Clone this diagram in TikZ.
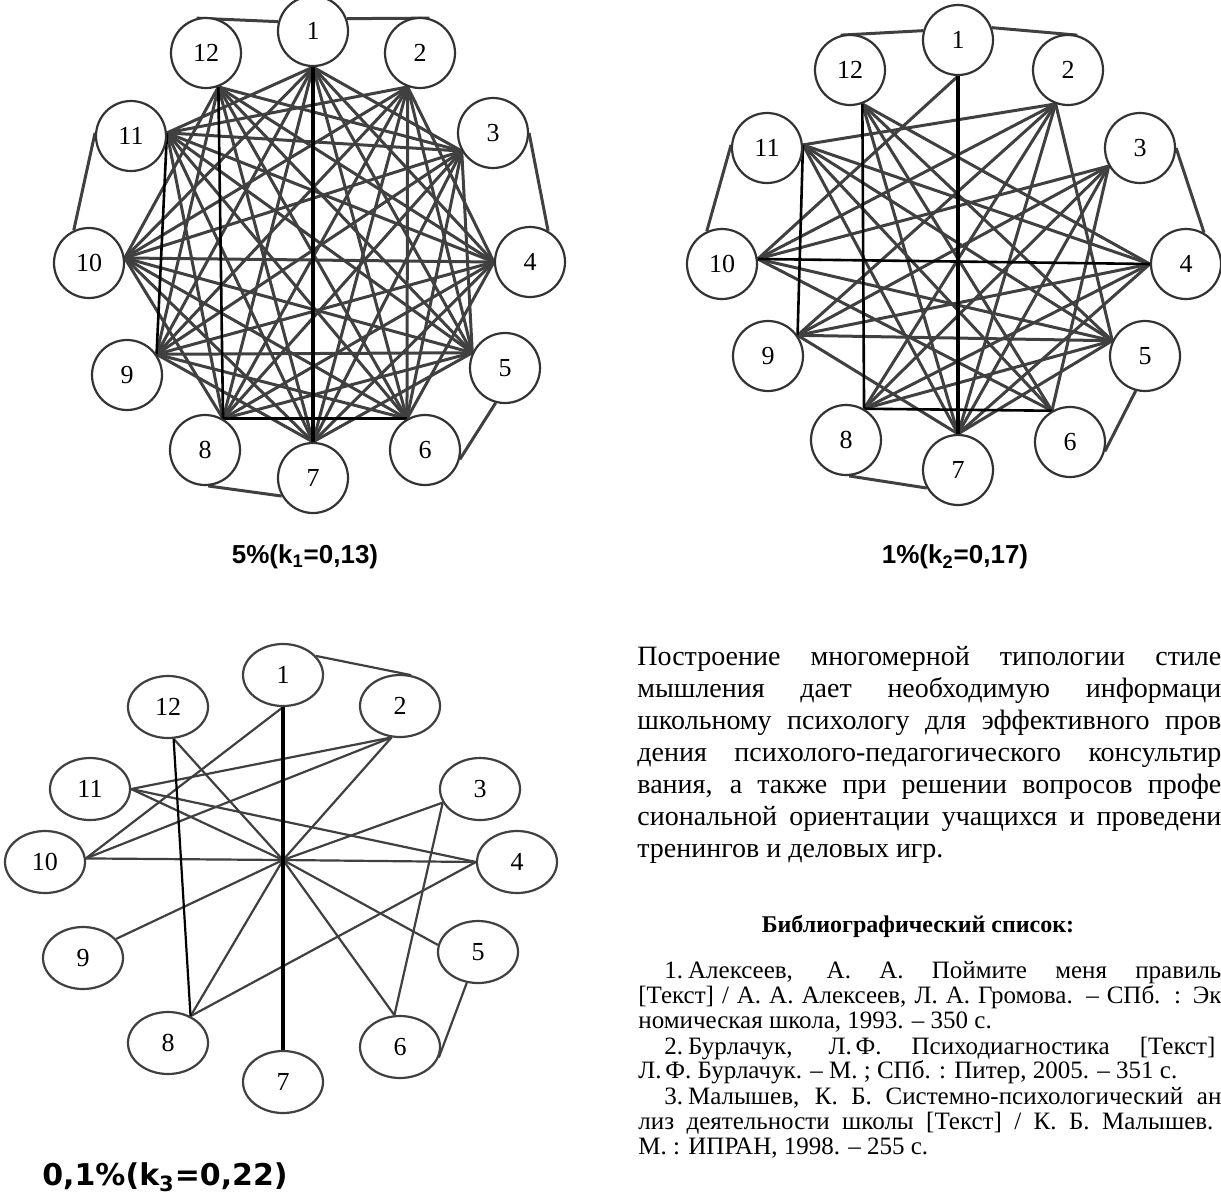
\documentclass[tikz,border=0pt]{standalone}
\usepackage{fontspec}
\setmainfont{Liberation Serif}
\newfontfamily\capa{Liberation Sans}
\newfontfamily\capb{DejaVu Sans}
\usetikzlibrary{shapes.geometric,backgrounds}
\begin{document}
\begin{tikzpicture}[x=0.5pt,y=-0.5pt,
 nd/.style={circle,draw=black!80,line width=1.1pt,fill=white,minimum size=35pt,inner sep=0pt,font=\fontsize{13}{13}\selectfont},
 ne/.style={ellipse,draw=black!75,line width=1.1pt,fill=white,minimum width=40pt,minimum height=31pt,inner sep=0pt,font=\fontsize{13}{13}\selectfont},
 ed/.style={draw=black!75,line width=1.5pt},
 ek/.style={draw=black,line width=1.3pt},
 ebk/.style={draw=black,line width=2.2pt},
 et/.style={draw=black!75,line width=1.1pt},
 txt/.style={anchor=base west,inner sep=0pt,font=\fontsize{14}{14}\selectfont},
 bib/.style={anchor=base west,inner sep=0pt,font=\fontsize{12.5}{12.5}\selectfont}]
\useasboundingbox (0,0) rectangle (1221,1200);
% ---------- graph 1 ----------
\node[nd] (a1) at (313,31) {1};
\node[nd] (a2) at (420,53) {2};
\node[nd] (a3) at (493,133) {3};
\node[nd] (a4) at (530,262) {4};
\node[nd] (a5) at (505,368) {5};
\node[nd] (a6) at (425,450) {6};
\node[nd] (a7) at (313,478) {7};
\node[nd] (a8) at (205,450) {8};
\node[nd] (a9) at (127,375) {9};
\node[nd] (a10) at (89,263) {10};
\node[nd] (a11) at (131,136) {11};
\node[nd] (a12) at (206,53) {12};
% ---------- graph 2 ----------
\node[nd] (b1) at (958,40) {1};
\node[nd] (b2) at (1068,70) {2};
\node[nd] (b3) at (1140,148) {3};
\node[nd] (b4) at (1186,264) {4};
\node[nd] (b5) at (1145,356) {5};
\node[nd] (b6) at (1070,442) {6};
\node[nd] (b7) at (958,470) {7};
\node[nd] (b8) at (846,440) {8};
\node[nd] (b9) at (768,356) {9};
\node[nd] (b10) at (722,264) {10};
\node[nd] (b11) at (767,148) {11};
\node[nd] (b12) at (850,70) {12};
% ---------- graph 3 ----------
\node[ne] (c1) at (283,675) {1};
\node[ne] (c2) at (400,706) {2};
\node[ne] (c3) at (480,789) {3};
\node[ne] (c4) at (517,862) {4};
\node[ne] (c5) at (478,952) {5};
\node[ne] (c6) at (400,1047) {6};
\node[ne] (c7) at (283,1082) {7};
\node[ne] (c8) at (168,1043) {8};
\node[ne] (c9) at (83,958) {9};
\node[ne] (c10) at (45,862) {10};
\node[ne] (c11) at (90,789) {11};
\node[ne] (c12) at (168,707) {12};
\coordinate (hub) at (283,860);
% anchors
\foreach \n/\a in {1/270,2/-110,3/-150,4/180,5/155,6/120,7/90,8/60,9/35,10/8,11/5,12/-70}{
  \coordinate (pa\n) at (a\n.\a);
  \coordinate (pb\n) at (b\n.\a);}
\foreach \n/\a in {1/270,2/-105,3/200,4/180,5/170,6/100,7/90,8/50,9/30,10/5,11/0,12/-80}{
  \coordinate (pc\n) at (c\n.\a);}
\begin{scope}[on background layer]
% graph 1 edges
\foreach \i/\j in {1/3,1/4,1/5,1/6,1/8,1/9,1/10,1/11,
  2/4,2/5,2/6,2/7,2/8,2/9,2/10,2/11,
  3/5,3/6,3/7,3/8,3/9,3/10,3/11,3/12,
  4/6,4/7,4/8,4/9,4/10,4/11,4/12,
  5/7,5/8,5/9,5/10,5/11,5/12,
  6/9,6/10,6/11,6/12,
  7/9,7/10,7/11,7/12,
  8/10,8/11,
  9/12,10/12}
  \draw[ed] (pa\i) -- (pa\j);
\draw[ebk] (pa1) -- (pa7);
\draw[ek] (pa12) -- (pa8);
\draw[ek] (pa11) -- (pa9);
\draw[ek] (pa8) -- (pa6);
\draw[ed] (a12.105) -- (a1.165);
\draw[ed] (a1.20) -- (a2.75);
\draw[ed] (a11.175) -- (a10.115);
\draw[ed] (a3.0) -- (a4.60);
\draw[ed] (a5.-105) -- (a6.-15);
\draw[ed] (a8.-85) -- (a7.-150);
% graph 2 edges
\foreach \i/\j in {1/10,12/4,12/5,12/6,12/7,2/11,2/10,2/9,2/8,2/7,2/5,
  11/4,11/5,11/6,11/7,3/9,3/10,3/8,3/7,3/6,10/5,10/6,
  9/4,9/5,9/7,8/4,8/5,4/7,5/7}
  \draw[ed] (pb\i) -- (pb\j);
\draw[ebk] (pb1) -- (pb7);
\draw[ek] (pb12) -- (pb8);
\draw[ek] (pb11) -- (pb9);
\draw[ek] (pb8) -- (pb6);
\draw[ek] (pb10) -- (pb4);
\draw[ed] (b12.105) -- (b1.165);
\draw[ed] (b1.20) -- (b2.75);
\draw[ed] (b11.175) -- (b10.115);
\draw[ed] (b3.0) -- (b4.60);
\draw[ed] (b5.-105) -- (b6.-15);
\draw[ed] (b8.-85) -- (b7.-150);
% graph 3 edges
\foreach \i/\j in {1/10,2/11,2/10,11/4,3/6,4/8}
  \draw[et] (pc\i) -- (pc\j);
\draw[et] (pc12) -- (hub) -- (pc6);
\draw[et] (pc2) -- (hub) -- (pc8);
\draw[et] (pc11) -- (hub) -- (pc5);
\draw[et] (pc3) -- (hub) -- (pc9);
\draw[et] (pc10) -- (hub) -- (pc4);
\draw[ek,line width=1.6pt] (pc1) -- (pc7);
\draw[ek,line width=1.1pt] (pc12) -- (pc8);
\draw[et] (c1.30) -- (c2.70);
\draw[et] (c5.-110) -- (c6.-15);
\end{scope}
% captions
\node[font=\capa\bfseries\fontsize{13}{13}\selectfont] (k1) at (305,557) {5\%(k\textsubscript{1}=0,13)};
\node[font=\capa\bfseries\fontsize{13}{13}\selectfont] (k2) at (955,557) {1\%(k\textsubscript{2}=0,17)};
\node[font=\capb\bfseries\fontsize{15}{15}\selectfont] (k3) at (165,1177) {0,1\%(k\textsubscript{3}=0,22)};
% paragraph
\node[txt] (t1) at (637,665) {\makebox[292pt][s]{Построение многомерной типологии стиле}};
\node[txt] (t2) at (637,697) {\makebox[292pt][s]{мышления дает необходимую информаци}};
\node[txt] (t3) at (637,729) {\makebox[292pt][s]{школьному психологу для эффективного пров}};
\node[txt] (t4) at (637,761) {\makebox[292pt][s]{дения психолого-педагогического консультир}};
\node[txt] (t5) at (637,793) {\makebox[292pt][s]{вания, а также при решении вопросов профе}};
\node[txt] (t6) at (637,825) {\makebox[292pt][s]{сиональной ориентации учащихся и проведени}};
\node[txt] (t7) at (637,857) {тренингов и деловых игр.};
% bibliography
\node[anchor=base,inner sep=0pt,font=\fontsize{12}{12}\selectfont\bfseries] (h) at (918,932) {Библиографический список:};
\node[bib] (r1) at (664,978) {\makebox[278.5pt][s]{1.\hspace{0.2em}Алексеев, А. А. Поймите меня правиль}};
\node[bib] (r2) at (638,1003) {\makebox[291.5pt][s]{[Текст] / А. А. Алексеев, Л. А. Громова. – СПб. : Эк}};
\node[bib] (r3) at (638,1028) {номическая школа, 1993. – 350 с.};
\node[bib] (r4) at (664,1054) {\makebox[275.5pt][s]{2.\hspace{0.2em}Бурлачук, Л.\hspace{0.15em}Ф. Психодиагностика [Текст]}};
\node[bib] (r5) at (638,1078) {Л.\hspace{0.15em}Ф. Бурлачук. – М. ; СПб. : Питер, 2005. – 351 с.};
\node[bib] (r6) at (664,1104) {\makebox[278.5pt][s]{3.\hspace{0.2em}Малышев, К. Б. Системно-психологический ан}};
\node[bib] (r7) at (638,1129) {\makebox[287.5pt][s]{лиз деятельности школы [Текст] / К. Б. Малышев.}};
\node[bib] (r8) at (638,1154) {М. : ИПРАН, 1998. – 255 с.};
\end{tikzpicture}
\end{document}
